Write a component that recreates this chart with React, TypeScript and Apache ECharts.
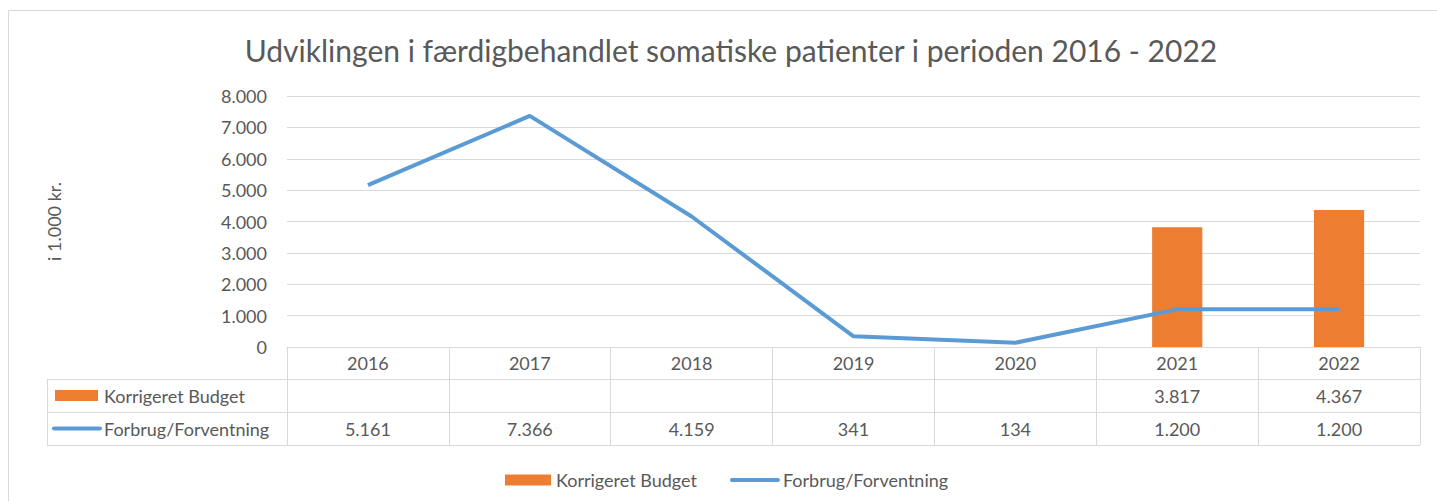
import React, { useEffect, useRef } from "react";
import * as echarts from "echarts";

const categories = ["2016", "2017", "2018", "2019", "2020", "2021", "2022"];
const budget: (number | null)[] = [null, null, null, null, null, 3817, 4367];
const forbrug: number[] = [5161, 7366, 4159, 341, 134, 1200, 1200];
const yMin = 0;
const yMax = 8000;
const yInterval = 1000;

const fmt = (v: number | null) =>
  v == null ? "" : String(v).replace(/\B(?=(\d{3})+(?!\d))/g, ".");

const FONT = "Lato";
const FS = 18;
const TXT = "#595959";
const GRID = "#d9d9d9";
const ORANGE = "#ED7D31";
const BLUE = "#5B9BD5";

export default function App() {
  const ref = useRef<HTMLDivElement>(null);
  useEffect(() => {
    if (!ref.current) return;
    const chart = echarts.init(ref.current, null, { renderer: "svg" });
    const gl = 287, gr = 1420, gt = 96, gb = 347;
    const rowH = 33;
    const tableLeft = 47;
    const row = (i: number) => gb + 32 + rowH * i;
    chart.setOption({
      animation: false,
      textStyle: { fontFamily: FONT, color: TXT },
      title: {
        text: "Udviklingen i færdigbehandlet somatiske patienter i perioden 2016 - 2022",
        left: 726,
        textAlign: "center",
        top: 30,
        textStyle: { fontFamily: FONT, fontSize: 30, fontWeight: "normal", color: TXT },
      },
      grid: { left: gl, right: 1437 - gr, top: gt, bottom: 501 - gb },
      legend: {
        left: 500,
        top: 466,
        itemWidth: 46,
        itemHeight: 11,
        itemGap: 33,
        textStyle: { fontFamily: FONT, fontSize: FS, color: TXT },
        data: [
          { name: "Korrigeret Budget", icon: "rect" },
          {
            name: "Forbrug/Forventning",
            itemStyle: { opacity: 0 },
            lineStyle: { width: 4, color: BLUE, cap: "round" },
          },
        ],
      },
      xAxis: [
        {
          type: "category",
          data: categories,
          boundaryGap: true,
          axisLine: { show: true, lineStyle: { color: GRID, width: 1 } },
          axisTick: { show: true, length: rowH * 3 - 1, interval: 0, lineStyle: { color: GRID } },
          axisLabel: { fontFamily: FONT, fontSize: FS, color: TXT, margin: 7 },
        },
        {
          type: "category",
          data: budget.map(fmt),
          position: "bottom",
          offset: 32,
          axisLine: { show: false },
          axisTick: { show: false },
          axisLabel: { fontFamily: FONT, fontSize: FS, color: TXT, margin: 8, interval: 0 },
        },
        {
          type: "category",
          data: forbrug.map(fmt),
          position: "bottom",
          offset: 32 + rowH,
          axisLine: { show: false },
          axisTick: { show: false },
          axisLabel: { fontFamily: FONT, fontSize: FS, color: TXT, margin: 8, interval: 0 },
        },
      ],
      yAxis: {
        type: "value",
        min: yMin,
        max: yMax,
        interval: yInterval,
        name: "i 1.000 kr.",
        nameLocation: "middle",
        nameRotate: 90,
        nameGap: 224,
        nameTextStyle: { fontFamily: FONT, fontSize: FS, color: TXT },
        axisLine: { show: false },
        axisTick: { show: false },
        splitLine: { lineStyle: { color: GRID, width: 1 } },
        axisLabel: { fontFamily: FONT, fontSize: FS, color: TXT, margin: 20, formatter: (v: number) => fmt(v) },
      },
      series: [
        {
          name: "Korrigeret Budget",
          type: "bar",
          data: budget,
          barWidth: "31%",
          itemStyle: { color: ORANGE },
          xAxisIndex: 0,
        },
        {
          name: "Forbrug/Forventning",
          type: "line",
          data: forbrug,
          symbol: "none",
          lineStyle: { color: BLUE, width: 4 },
          itemStyle: { color: BLUE },
          xAxisIndex: 0,
        },
      ],
      graphic: [
        {
          type: "rect",
          shape: { x: 8.5, y: 10.5, width: 1440, height: 500 },
          style: { fill: "none", stroke: GRID, lineWidth: 1 },
          silent: true,
        },
        ...[0, 1, 2].map((i) => ({
          type: "line",
          shape: { x1: tableLeft, y1: row(i) + 0.5, x2: gr, y2: row(i) + 0.5 },
          style: { stroke: GRID, lineWidth: 1 },
          silent: true,
        })),
        {
          type: "line",
          shape: { x1: tableLeft + 0.5, y1: row(0), x2: tableLeft + 0.5, y2: row(2) },
          style: { stroke: GRID, lineWidth: 1 },
          silent: true,
        },
        {
          type: "rect",
          shape: { x: 55, y: 390, width: 43, height: 11 },
          style: { fill: ORANGE },
          silent: true,
        },
        {
          type: "text",
          x: 104,
          y: row(0) + rowH / 2,
          style: { text: "Korrigeret Budget", fontFamily: FONT, fontSize: FS, fill: TXT, verticalAlign: "middle" },
          silent: true,
        },
        {
          type: "line",
          shape: { x1: 54, y1: row(1) + rowH / 2, x2: 100, y2: row(1) + rowH / 2 },
          style: { stroke: BLUE, lineWidth: 4, lineCap: "round" },
          silent: true,
        },
        {
          type: "text",
          x: 104,
          y: row(1) + rowH / 2,
          style: { text: "Forbrug/Forventning", fontFamily: FONT, fontSize: FS, fill: TXT, verticalAlign: "middle" },
          silent: true,
        },
      ],
    });
    return () => chart.dispose();
  }, []);
  return (
    <div
      ref={ref}
      style={{ position: "absolute", left: 0, top: 0, width: 1437, height: 501, background: "#fff" }}
    />
  );
}
